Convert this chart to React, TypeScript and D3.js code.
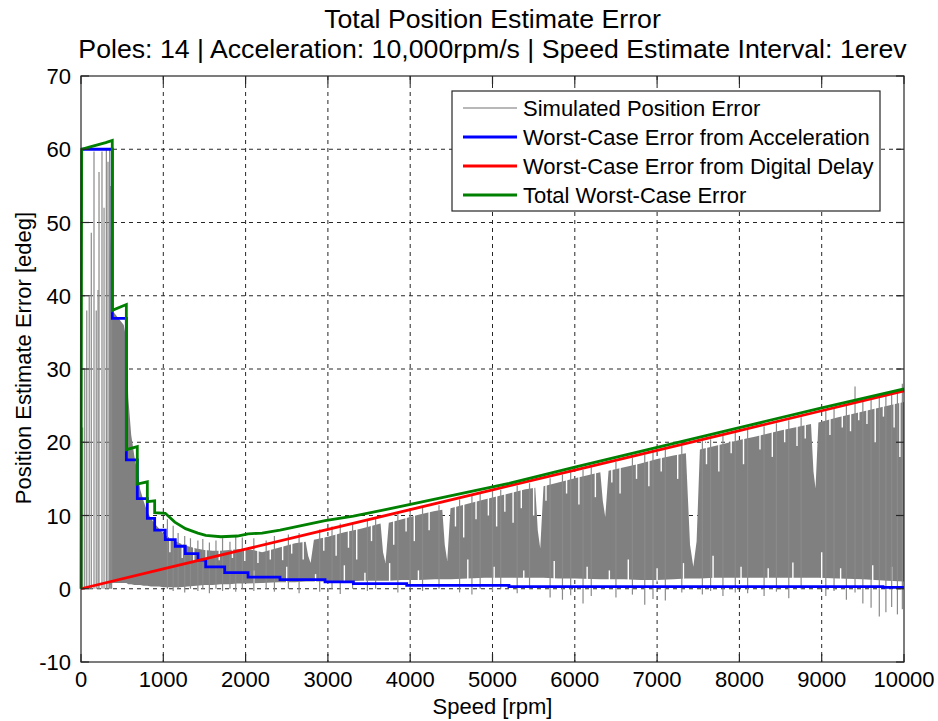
import * as React from 'react';
import * as d3 from 'd3';

// axis ticks
const xTicks = [0, 1000, 2000, 3000, 4000, 5000, 6000, 7000, 8000, 9000, 10000];
const yTicks = [-10, 0, 10, 20, 30, 40, 50, 60, 70];

// worst-case error from acceleration (step line)
const blueSpeed = [0, 380, 380, 551, 551, 684, 684, 806, 806, 895, 895, 1024, 1024, 1146, 1146, 1267, 1267, 1422, 1422, 1515, 1515, 1746, 1746, 2030, 2030, 2418, 2418, 2965, 2965, 3310, 3310, 3958, 3958, 5200, 5200, 9745, 9745, 10000];
const blueError = [60, 60, 36.9, 36.9, 17.6, 17.6, 12.3, 12.3, 9.6, 9.6, 8.0, 8.0, 6.7, 6.7, 5.8, 5.8, 4.8, 4.8, 3.9, 3.9, 3.0, 3.0, 2.2, 2.2, 1.6, 1.6, 1.25, 1.25, 0.95, 0.95, 0.7, 0.7, 0.45, 0.45, 0.3, 0.3, 0.2, 0.2];

// worst-case error from digital delay
const redSpeed = [0, 1000, 2000, 3000, 4000, 5000, 6000, 7000, 8000, 9000, 10000];
const redError = [0, 2.7, 5.4, 8.1, 10.8, 13.5, 16.2, 18.9, 21.6, 24.3, 27.0];

// total worst-case error
const greenSpeed = [0, 8, 100, 200, 300, 380, 380, 551, 551, 684, 684, 806, 806, 895, 895, 1024, 1140, 1270, 1420, 1515, 1700, 1900, 2030, 2200, 2418, 2965, 3310, 3958, 5200, 6000, 7000, 8000, 9000, 10000];
const greenError = [0, 60, 60.3, 60.6, 60.9, 61.2, 38.0, 38.8, 19.0, 19.4, 14.3, 14.6, 11.9, 12.0, 10.4, 10.3, 9.1, 8.2, 7.6, 7.3, 7.1, 7.2, 7.5, 7.6, 8.0, 9.3, 9.9, 11.4, 14.4, 16.6, 19.3, 22.0, 24.7, 27.3];

// simulated position error: dense band (lower / upper extent)
const simSpeed = [340, 370, 380, 450, 520, 551, 575, 610, 650, 684, 720, 760, 806, 850, 895, 950, 1000, 1100, 1200, 1300, 1400, 1500, 1600, 1700, 1800, 1900, 2000, 2200, 2400, 2600, 2730, 2760, 2790, 2830, 3000, 3200, 3400, 3640, 3670, 3700, 3740, 3900, 4100, 4300, 4390, 4420, 4450, 4490, 4700, 4900, 5200, 5400, 5520, 5550, 5580, 5620, 5800, 6000, 6310, 6340, 6370, 6410, 6600, 6800, 7000, 7200, 7350, 7400, 7440, 7480, 7520, 7700, 8000, 8200, 8500, 8870, 8900, 8925, 8960, 9200, 9500, 9800, 10000];
const simLow = [0.5, 0.5, 0.8, 0.8, 0.8, 0.8, 0.6, 0.6, 0.5, 0.5, 0.5, 0.4, 0.4, 0.3, 0.3, 0.3, 0.2, 0.2, 0.2, 0.3, 0.4, 0.5, 0.5, 0.6, 0.6, 0.7, 0.7, 0.8, 0.9, 0.9, 1.0, 1.0, 1.0, 1.0, 1.0, 1.0, 1.1, 1.1, 1.1, 1.1, 1.1, 1.2, 1.2, 1.3, 1.3, 1.3, 1.3, 1.3, 1.4, 1.5, 1.5, 1.5, 1.5, 1.5, 1.5, 1.5, 1.4, 1.4, 1.3, 1.3, 1.3, 1.3, 1.3, 1.2, 1.2, 1.3, 1.4, 1.4, 1.4, 1.4, 1.4, 1.5, 1.5, 1.5, 1.5, 1.5, 1.5, 1.5, 1.5, 1.4, 1.3, 1.1, 1.0];
const simHigh = [45, 49, 38, 37, 36, 34, 26, 21, 18, 16, 13.5, 12, 10.5, 9.6, 8.9, 8.2, 7.5, 6.8, 6.2, 5.8, 5.5, 5.3, 5.2, 5.2, 5.3, 5.4, 5.5, 5.0, 5.6, 6.2, 6.4, 4.5, 3.5, 6.7, 7.1, 7.7, 8.2, 8.9, 5.0, 3.5, 9.0, 9.5, 10.1, 10.6, 10.8, 6.0, 3.8, 11.0, 11.6, 12.2, 13.0, 13.6, 13.8, 8.0, 5.5, 14.0, 14.5, 15.1, 15.9, 12.0, 9.8, 16.1, 16.6, 17.1, 17.7, 18.2, 18.5, 6.0, 3.0, 6.5, 19.0, 19.5, 20.3, 20.8, 21.6, 22.5, 16.0, 13.7, 22.7, 23.4, 24.2, 25.0, 25.5];

// simulated position error: individual excursions
const spikeSpeed = [20, 45, 70, 100, 125, 158, 185, 207, 219, 255, 280, 308, 328, 348, 362, 372, 1050, 1120, 1180, 1260, 1330, 1420, 1480, 1560, 1640, 1720, 1810, 1880, 1960, 2100, 2250, 2350, 2520, 2650, 2900, 3050, 3150, 3300, 3480, 3580, 3850, 4000, 4150, 4350, 4600, 4750, 4850, 5000, 5100, 5300, 5450, 5700, 5850, 5950, 6100, 6200, 6500, 6700, 6850, 6950, 7100, 7300, 7550, 7650, 7800, 7950, 8100, 8300, 8450, 8600, 8750, 9050, 9150, 9300, 9405, 9500, 9600, 9700, 9780, 9850, 9920, 9980];
const spikeLow = [0, 0, 0, 0, 0, 0, 0, 0, 0, 0, 0, 0, 0, 0, 0, 0, 0, -0.3, 0, -0.5, 0, -0.3, 0, -0.6, 0, -0.3, 0, -0.4, 0, -0.3, 0, -0.4, 0, -0.6, -0.4, 0, -0.7, 0, -0.3, 0, -0.5, 0, -0.3, 0, -0.5, -0.8, 0, -0.4, 0, -0.6, 0, -1.2, -1.5, -0.9, -2.0, -1.0, -1.2, -0.8, -2.2, -1.4, -1.6, -0.5, -0.8, -0.3, -1.0, -0.5, -0.6, -1.0, -0.4, -1.3, 0, -1.0, -0.3, -1.5, -0.5, -2.0, -2.6, -3.8, -3.2, -2.5, -3.5, -2.8];
const spikeHigh = [22, 30, 38, 40, 48.6, 59.7, 38, 40.8, 56.9, 59.7, 52, 59.9, 58.3, 60, 55, 59, 9.5, 8.6, 7.6, 7.2, 6.9, 6.6, 6.8, 6.3, 6.6, 6.9, 6.4, 7.2, 7.0, 6.9, 6.6, 7.2, 7.4, 7.6, 8.1, 8.5, 8.9, 9.1, 9.5, 9.8, 10.4, 10.8, 11.2, 11.4, 12.2, 12.9, 13.0, 13.6, 13.5, 14.1, 14.4, 15.1, 15.6, 16.3, 16.2, 16.6, 17.3, 17.9, 18.3, 18.7, 19.0, 19.5, 20.2, 20.4, 20.9, 21.3, 21.7, 22.2, 22.6, 23.0, 23.4, 24.3, 24.7, 25.0, 27.6, 25.6, 26.0, 26.2, 26.6, 26.7, 26.9, 28.0];

// simulated position error: white gaps inside the band
const gapSpeed = [1080, 1230, 1370, 1520, 1680, 1840, 1990, 2150, 2300, 2450, 2560, 2700, 2950, 3100, 3250, 3350, 3530, 3800, 3950, 4050, 4230, 4550, 4650, 4800, 4950, 5050, 5150, 5250, 5350, 5500, 5650, 5900, 6050, 6250, 6450, 6550, 6750, 6900, 7050, 7250, 7600, 7750, 7900, 8050, 8250, 8400, 8550, 8700, 8800, 9100, 9250, 9350, 9450, 9550, 9650, 9750, 9880, 9950,
  2100, 2500, 2850, 3200, 3450, 3750, 4100, 4700, 5020, 5380, 5750, 6150, 6420, 6650, 7000, 7320, 7680, 8020, 8350, 8650, 9000, 9230, 9620, 9850];
const gapLow = [5.0, 4.2, 3.8, 3.6, 3.9, 4.2, 3.8, 3.5, 4.0, 3.9, 4.8, 4.0, 5.2, 4.5, 5.6, 4.0, 6.5, 6.0, 7.8, 6.5, 8.0, 8.5, 7.0, 9.5, 10.0, 8.5, 10.5, 9.0, 11.0, 10.0, 12.0, 13.0, 11.5, 12.5, 14.5, 13.0, 15.0, 14.0, 16.0, 15.0, 17.0, 16.0, 18.5, 17.0, 19.0, 18.0, 20.0, 19.5, 20.5, 21.0, 22.0, 21.5, 23.0, 22.5, 20.0, 23.5, 22.0, 18.0,
  0.6, 0.7, 0.8, 0.8, 0.9, 0.9, 1.0, 1.2, 1.3, 1.3, 1.3, 1.2, 1.1, 1.1, 1.0, 1.1, 1.3, 1.3, 1.3, 1.3, 1.3, 1.2, 1.0, 0.9];
const gapHigh = [8, 7, 6, 6, 6, 6, 6, 6, 6.5, 7, 7, 7.5, 8, 8.5, 9, 9, 9.5, 10.5, 10.5, 11, 11.5, 12, 12.5, 13, 13.5, 13.5, 14, 14.3, 14.5, 15, 15.3, 16, 16.4, 17, 17.5, 17.7, 18.3, 18.6, 19, 19.5, 20.5, 21, 21.3, 21.8, 22.3, 22.7, 23, 23.5, 23.8, 24.5, 25, 25.2, 25.5, 25.8, 26.1, 26.4, 26.7, 26.6,
  2.5, 3.0, 2.0, 3.2, 2.2, 3.5, 2.5, 4.0, 3.0, 2.5, 3.8, 3.0, 2.5, 4.0, 2.8, 3.5, 4.5, 3.0, 2.8, 3.6, 5.0, 2.8, 3.2, 3.0];

const legendLabels = [
  'Simulated Position Error',
  'Worst-Case Error from Acceleration',
  'Worst-Case Error from Digital Delay',
  'Total Worst-Case Error',
];
const legendColors = ['#a0a0a0', '#0000ff', '#ff0000', '#008000'];

const W = 938;
const H = 721;
const left = 81, right = 904, top = 76, bottom = 662;
const font = '"Liberation Sans", Arial, sans-serif';
const axisColor = '#262626';

export default function App() {
  const x = d3.scaleLinear().domain([0, 10000]).range([left, right]);
  const y = d3.scaleLinear().domain([-10, 70]).range([bottom, top]);

  const lineOf = (xs: number[], ys: number[]) =>
    d3.line<number>().x((d, i) => x(xs[i])).y((d) => y(d))(ys) || '';

  const band = d3.area<number>()
    .x((d, i) => x(simSpeed[i]))
    .y0((d, i) => y(simLow[i]))
    .y1((d) => y(d))(simHigh) || '';

  const tickLen = 8;

  return (
    <div style={{ position: 'absolute', left: 0, top: 0 }}>
      <svg width={W} height={H} style={{ display: 'block', background: '#fff' }} fontFamily={font}>
        <rect x={0} y={0} width={W} height={H} fill="#fff" />
        <text x={(left + right) / 2} y={28} textAnchor="middle" fontSize={26.7} fill="#000">Total Position Estimate Error</text>
        <text x={(left + right) / 2} y={58} textAnchor="middle" fontSize={26.7} fill="#000">Poles: 14 | Acceleration: 10,000rpm/s | Speed Estimate Interval: 1erev</text>

        {/* grid */}
        <g stroke={axisColor} strokeWidth={1} strokeDasharray="4,4">
          {xTicks.slice(1, -1).map((t) => (
            <line key={'gx' + t} x1={x(t)} x2={x(t)} y1={top} y2={bottom} />
          ))}
          {yTicks.slice(1, -1).map((t) => (
            <line key={'gy' + t} x1={left} x2={right} y1={y(t)} y2={y(t)} />
          ))}
        </g>

        {/* simulated error */}
        <path d={band} fill="#808080" stroke="none" />
        <g stroke="#fff" strokeWidth={1.4}>
          {gapSpeed.map((s, i) => (
            <line key={'gp' + i} x1={x(s)} x2={x(s)} y1={y(gapLow[i])} y2={y(gapHigh[i])} />
          ))}
        </g>
        <g stroke="#8a8a8a" strokeWidth={1.2}>
          {spikeSpeed.map((s, i) => (
            <line key={'sp' + i} x1={x(s)} x2={x(s)} y1={y(spikeLow[i])} y2={y(spikeHigh[i])} />
          ))}
        </g>

        <path d={lineOf(blueSpeed, blueError)} fill="none" stroke="#0000ff" strokeWidth={2.8} />
        <path d={lineOf(redSpeed, redError)} fill="none" stroke="#ff0000" strokeWidth={2.8} />
        <path d={lineOf(greenSpeed, greenError)} fill="none" stroke="#008000" strokeWidth={2.8} />

        {/* axes box + ticks */}
        <rect x={left} y={top} width={right - left} height={bottom - top} fill="none" stroke={axisColor} strokeWidth={1.2} />
        <g stroke={axisColor} strokeWidth={1.2}>
          {xTicks.map((t) => (
            <g key={'tx' + t}>
              <line x1={x(t)} x2={x(t)} y1={bottom} y2={bottom - tickLen} />
              <line x1={x(t)} x2={x(t)} y1={top} y2={top + tickLen} />
            </g>
          ))}
          {yTicks.map((t) => (
            <g key={'ty' + t}>
              <line x1={left} x2={left + tickLen} y1={y(t)} y2={y(t)} />
              <line x1={right} x2={right - tickLen} y1={y(t)} y2={y(t)} />
            </g>
          ))}
        </g>
        <g fontSize={22} fill="#000">
          {xTicks.map((t) => (
            <text key={'lx' + t} x={x(t)} y={687} textAnchor="middle">{t}</text>
          ))}
          {yTicks.map((t) => (
            <text key={'ly' + t} x={71} y={y(t) + 8} textAnchor="end">{t}</text>
          ))}
        </g>
        <text x={(left + right) / 2} y={714} textAnchor="middle" fontSize={22} fill="#000">Speed [rpm]</text>
        <text transform="translate(31, 358) rotate(-90)" textAnchor="middle" fontSize={22} fill="#000">Position Estimate Error [edeg]</text>

        {/* legend */}
        <g>
          <rect x={452} y={91} width={428} height={120} fill="#fff" stroke={axisColor} strokeWidth={1.2} />
          {legendLabels.map((label, i) => {
            const ly = 108 + i * 29;
            return (
              <g key={label}>
                <line x1={463} x2={517} y1={ly} y2={ly} stroke={legendColors[i]} strokeWidth={i === 0 ? 1.5 : 2.8} />
                <text x={523} y={ly + 8} fontSize={22} fill="#000">{label}</text>
              </g>
            );
          })}
        </g>
      </svg>
    </div>
  );
}
